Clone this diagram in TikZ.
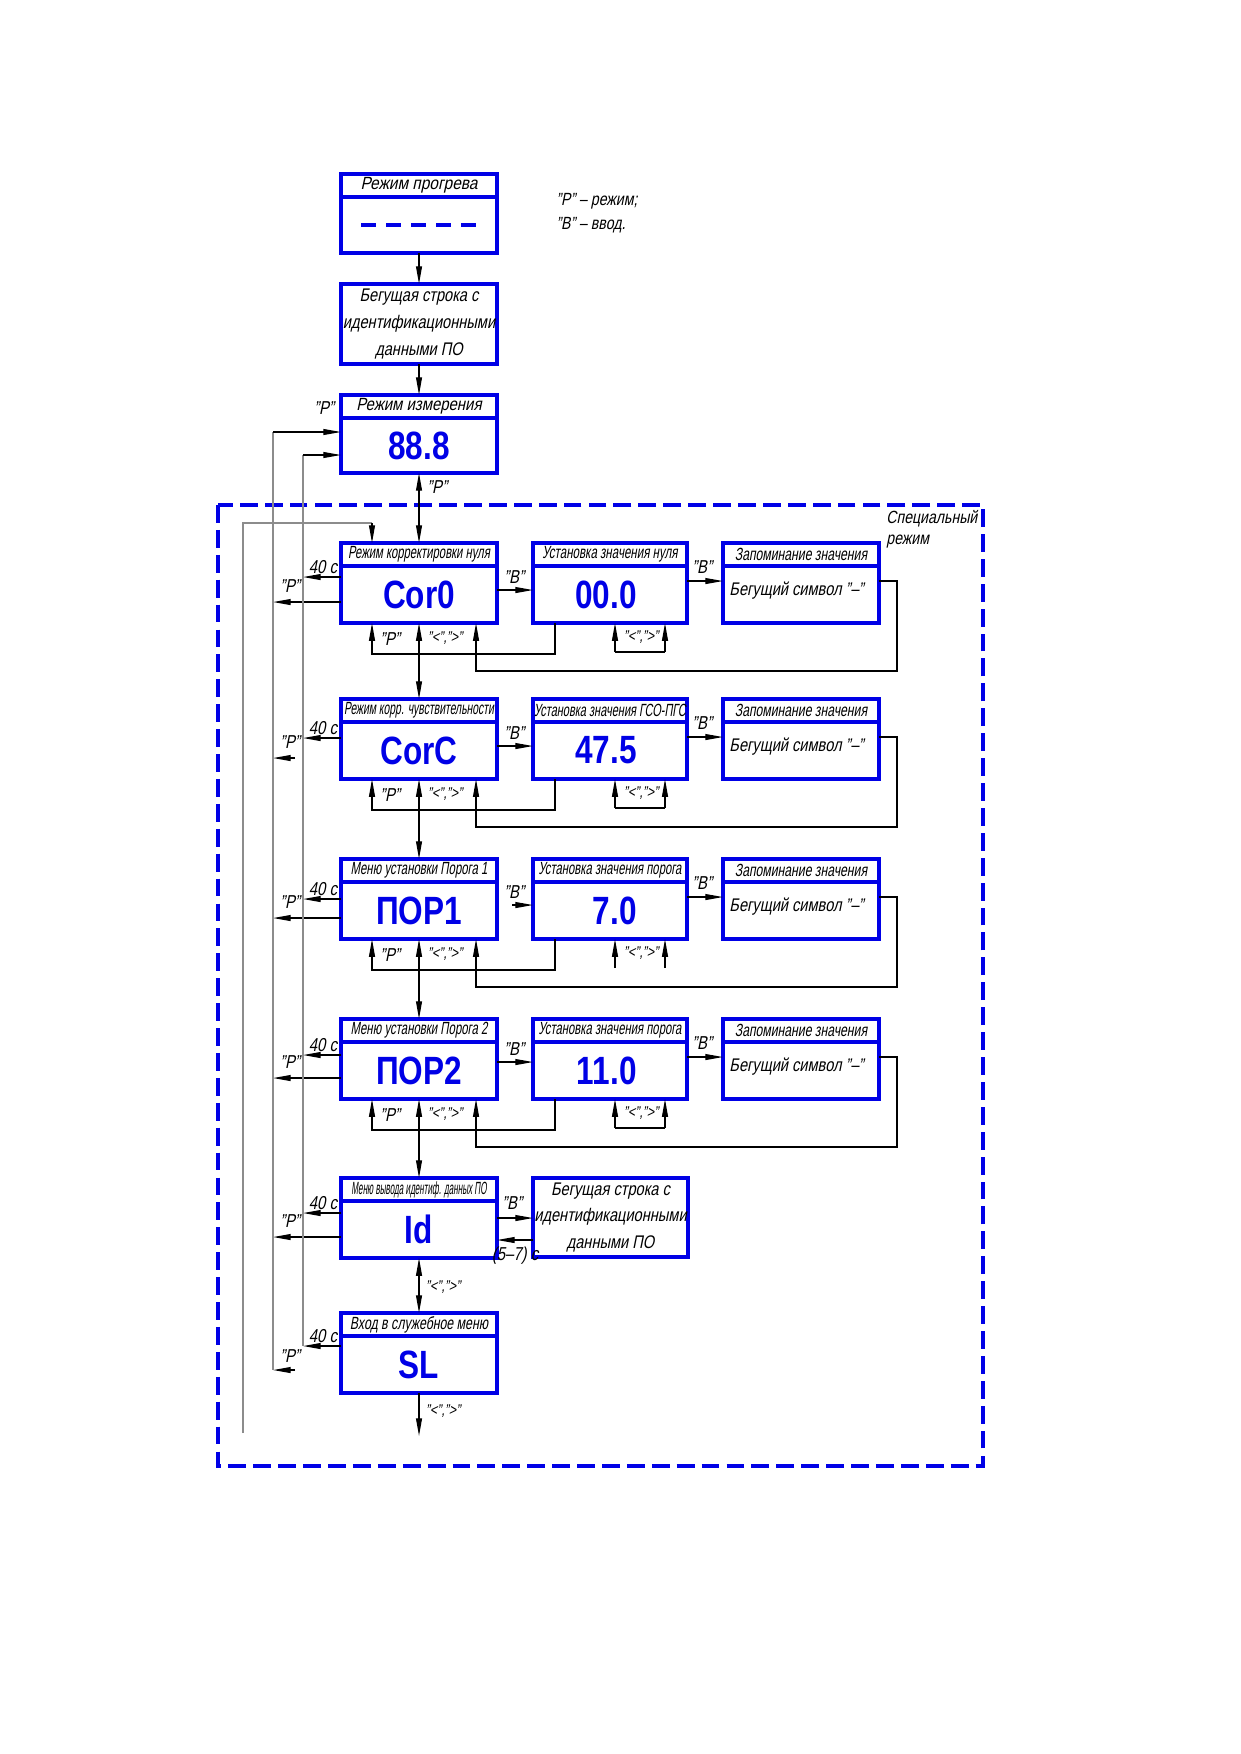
\documentclass[tikz,border=0pt]{standalone}
\usepackage{fontspec}
\usepackage{graphicx}
\setmainfont[FakeStretch=0.8,FakeSlant=0.2]{Liberation Sans}
\newfontfamily\lcdfont[FakeStretch=0.8]{Liberation Sans}
\usetikzlibrary{arrows.meta,positioning}
\definecolor{scrBlue}{HTML}{0000E6}
\definecolor{retGray}{HTML}{8C8C8C}
\newcommand\fitw[2]{\resizebox{#1}{\height}{#2}}

\begin{document}
\begin{tikzpicture}[
  x=0.16933mm,y=-0.16933mm,
  box/.style={draw=scrBlue, line width=2.2pt, minimum width=26.42mm,
    inner sep=0pt, outer sep=0pt, align=center},
  hdr/.style={box, minimum height=3.9mm, font=\fontsize{8.5}{9}\selectfont},
  body/.style={box, minimum height=9.65mm},
  lcd/.style={text=scrBlue, font=\lcdfont\bfseries\fontsize{19}{19}\selectfont},
  txt/.style={font=\fontsize{8.8}{12.8}\selectfont, inner sep=0pt, align=center},
  lbl/.style={font=\fontsize{9}{9}\selectfont, inner sep=0pt},
  btn/.style={font=\fontsize{7.5}{7.5}\selectfont, inner sep=0pt},
  lnk/.style={line width=0.6pt},
  arr/.style={lnk, -{Triangle[length=3mm,width=1mm]}},
  darr/.style={lnk, {Triangle[length=3mm,width=1mm]}-{Triangle[length=3mm,width=1mm]}},
  ret/.style={draw=retGray, line width=0.8pt},
  specframe/.style={draw=scrBlue, line width=1.7pt, dash pattern=on 8.6pt off 3.4pt}
]
\useasboundingbox (0,0) rectangle (1240,1754);

\node[hdr, anchor=north west] (warmh) at (341,174) {\fitw{19.8mm}{Режим прогрева}};
\node[body, minimum height=9.48mm, anchor=north] (warm) at (warmh.south) {};
\draw[scrBlue, line width=2pt, dash pattern=on 7.2pt off 4.9pt]
  (warm.center) ++(-58,0) -- ++(116,0);
\node[box, txt, minimum height=13.55mm, anchor=north west] (idtop) at (341,284)
  {Бегущая строка с\\идентификационными\\данными ПО};
\node[hdr, anchor=north west] (meash) at (341,395) {\fitw{21.2mm}{Режим измерения}};
\node[body, lcd, minimum height=9.31mm, anchor=north] (meas) at (meash.south) {88.8};
\node[lbl, anchor=north west, align=left, font=\fontsize{8.5}{11.5}\selectfont]
  (legend) at (556,193) {"Р" – режим;\\"В" – ввод.};
\draw[arr] (warm.south) -- (idtop.north);
\draw[arr] (idtop.south) -- (meash.north);

\draw[specframe] (218,505) rectangle (983,1466);
\node[lbl, anchor=north west, align=left, font=\fontsize{8.5}{10}\selectfont]
  (spec) at (886,510) {Специальный\\режим};

\foreach \r/\y/\hw/\ta/\hd/\dsp in {
  1/543/24.0/11/{Режим корректировки нуля}/Cor0,
  2/699/25.4/16/{Режим корр. чувствительности}/CorC,
  3/859/23.2/17/{Меню установки Порога 1}/ПОР1,
  4/1019/23.2/13/{Меню установки Порога 2}/ПОР2,
  5/1178/22.9/12/{Меню вывода идентиф. данных ПО}/Id,
  6/1313/23.4/10/{Вход в служебное меню}/SL} {
  \node[hdr, anchor=north west] (h\r) at (341,\y) {\fitw{\hw mm}{\hd}};
  \node[body, lcd, anchor=north] (m\r) at (h\r.south) {\dsp};
  \draw[arr] (m\r.north west) ++(0,\ta) -- ++(-38,0);
  \node[lbl] (s\r) at ([shift={(-18,\ta-10)}]m\r.north west) {40 с};
  \node[lbl] (p\r) at ([shift={(-51,20)}]m\r.north west) {"Р"};
}

\foreach \r/\y/\hw/\hd/\val in {
  1/543/22.9/{Установка значения нуля}/00.0,
  2/699/25.7/{Установка значения ГСО-ПГС}/47.5,
  3/859/24.2/{Установка значения порога}/7.0,
  4/1019/24.2/{Установка значения порога}/11.0} {
  \node[hdr, minimum width=26.08mm, anchor=north west] (g\r) at (533,\y) {\fitw{\hw mm}{\hd}};
  \node[body, minimum width=26.08mm, anchor=north] (v\r) at (g\r.south) {};
  \node[lcd, inner sep=0pt, anchor=east] (n\r) at ([shift={(-50,0)}]v\r.east) {\val};
  \node[hdr, anchor=north west] (k\r) at (723,\y) {\fitw{22.4mm}{Запоминание значения}};
  \node[body, anchor=north] (w\r) at (k\r.south) {};
  \node[txt, anchor=west] (c\r) at ([shift={(6,-4)}]w\r.west) {Бегущий символ "–"};
  \draw[arr] (v\r.north east) ++(0,15) -- ++(36,0);
  \node[lbl] (u\r) at ([shift={(15,1)}]v\r.north east) {"В"};
  \draw[arr] (w\r.north east) ++(0,15) -- ++(18,0) -- ++(0,90) -- ++(-421,0) -- ++(0,-48);
  \draw[arr] (v\r.south west) ++(22,0) -- ++(0,31) -- ++(-183,0) -- ++(0,-31);
  \draw[arr] (v\r.south west) ++(82,29) -- ++(0,-29);
  \draw[arr] (v\r.south west) ++(132,29) -- ++(0,-29);
  \node[btn] (o\r) at ([shift={(108,14)}]v\r.south west) {"<",">"};
  \node[lbl] (e\r) at ([shift={(49,16)}]m\r.south west) {"Р"};
  \node[btn] (f\r) at ([shift={(104,15)}]m\r.south west) {"<",">"};
}
\foreach \r in {1,2,4} \draw[lnk] (v\r.south west) ++(82,29) -- ++(50,0);

\foreach \r/\b in {1/24,2/24,4/20} {
  \draw[arr] (m\r.north east) ++(0,\b) -- ++(36,0);
  \node[lbl] (q\r) at ([shift={(17,\b-13)}]m\r.north east) {"В"};
}
\draw[arr] (m3.north east) ++(15,23) -- ++(21,0);
\node[lbl] (q3) at ([shift={(17,10)}]m3.north east) {"В"};

\node[box, txt, minimum width=26.25mm, minimum height=13.38mm, anchor=north west]
  (idrun) at (533,1178) {Бегущая строка с\\идентификационными\\данными ПО};
\draw[arr] (m5.north east) ++(0,17) -- ++(36,0);
\draw[arr] (idrun.north west) ++(0,62) -- ++(-36,0);
\node[lbl] (q5) at ([shift={(15,2)}]m5.north east) {"В"};
\node[lbl] (t5) at ([shift={(18,55)}]m5.north east) {(5–7) с};
\node[btn] (f5) at ([shift={(102,29)}]m5.south west) {"<",">"};
\node[btn] (f6) at ([shift={(102,18)}]m6.south west) {"<",">"};

\draw[darr] (meas.south) -- (h1.north);
\node[lbl] (pc) at ([shift={(18,14)}]meas.south) {"Р"};
\foreach \r/\s in {1/2,2/3,3/4,4/5,5/6} \draw[darr] (m\r.south) -- (h\s.north);
\draw[arr] (m6.south) -- ++(0,43);

\foreach \r in {1,3,4,5} \draw[arr] (m\r.north west) ++(0,36) -- ++(-68,0);
\draw[arr] (m2.north west) ++(-46,36) -- ++(-22,0);
\draw[arr] (m6.north west) ++(-46,34) -- ++(-22,0);

\coordinate (retA) at (243,1433);
\coordinate (retB) at (273,432);
\coordinate (retC) at (303,455);
\draw[ret] (retA) |- (372,523) coordinate (topA);
\draw[arr] (topA) -- (topA |- h1.north);
\draw[ret] (retB) -- ++(0,938);
\draw[ret] (retC) -- ++(0,891);
\draw[arr] (retB) -- (retB -| meas.west);
\draw[arr] (retC) -- (retC -| meas.west);
\node[lbl] (pm) at ([shift={(-17,-10)}]meas.north west) {"Р"};
\end{tikzpicture}
\end{document}
